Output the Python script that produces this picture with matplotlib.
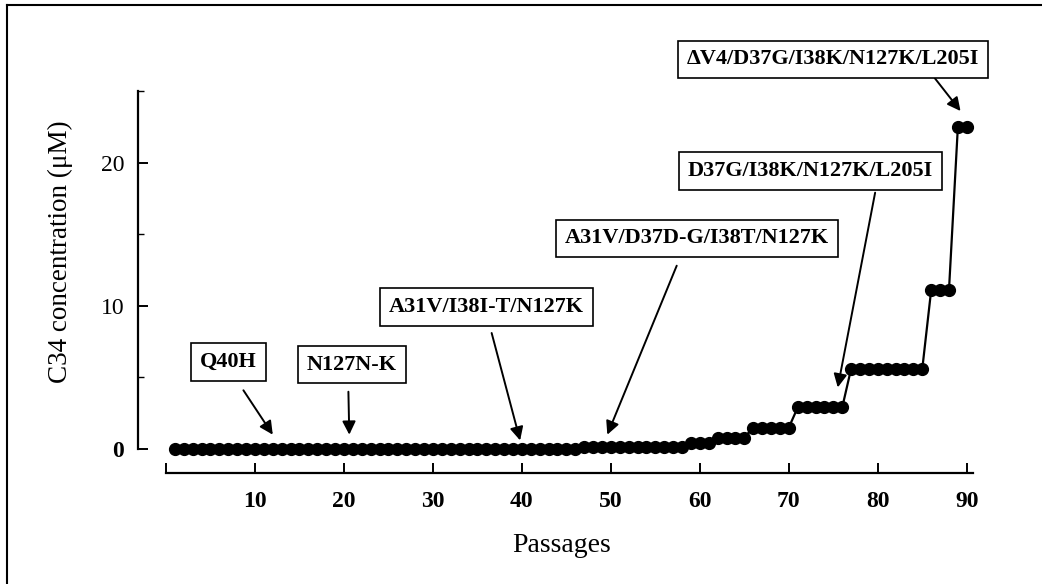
import matplotlib
matplotlib.use('Agg')
import matplotlib.pyplot as plt
from matplotlib.lines import Line2D

plt.rcParams['font.family'] = ['Liberation Serif', 'DejaVu Serif']

# Data
passages = list(range(1, 91))
levels = [0.0] * 46 + [0.15] * 12 + [0.4] * 3 + [0.8] * 4 + [1.5] * 5 \
    + [2.9] * 6 + [5.6] * 9 + [11.1] * 3 + [22.5] * 2

x_ticks = [0, 10, 20, 30, 40, 50, 60, 70, 80, 90]
x_tick_labels = ['', '10', '20', '30', '40', '50', '60', '70', '80', '90']
y_ticks = [0, 10, 20]
y_tick_labels = ['0', '10', '20']

# mutation labels: text, box centre, arrow tail, arrow tip
labels = ['Q40H', 'N127N-K', 'A31V/I38I-T/N127K', 'A31V/D37D-G/I38T/N127K',
          'D37G/I38K/N127K/L205I', '\u0394V4/D37G/I38K/N127K/L205I']
box_xy = [(7.0, 6.1), (20.9, 5.9), (36.0, 9.9), (59.7, 14.7), (72.4, 19.4), (75.0, 27.2)]
tail_xy = [(8.7, 4.1), (20.5, 4.0), (36.6, 8.1), (57.4, 12.8), (79.7, 17.9), (86.4, 25.9)]
tip_xy = [(12.0, 1.0), (20.6, 1.0), (39.8, 0.6), (49.6, 1.0), (75.5, 4.3), (89.3, 23.6)]

fig = plt.figure(figsize=(10.42, 5.84), dpi=100)
ax = fig.add_axes([166 / 1042, 1 - 449 / 584, 807 / 1042, 358 / 584])

ax.plot(passages, levels, 'k-', lw=1.6, marker='o', ms=8.5, clip_on=False, zorder=3)

ax.set_xlim(0, 90.7)
ax.set_ylim(0, 25)

# detached axes like the original
ax.spines['top'].set_visible(False)
ax.spines['right'].set_visible(False)
ax.spines['left'].set_position(('outward', 20))
ax.spines['bottom'].set_position(('outward', 17.5))
ax.spines['left'].set_linewidth(1.6)
ax.spines['bottom'].set_linewidth(1.6)

ax.set_xticks(x_ticks)
ax.set_xticklabels(x_tick_labels, fontweight='bold', fontsize=17)
ax.set_yticks(y_ticks)
ax.set_yticklabels(y_tick_labels, fontsize=17)
ax.get_yticklabels()[0].set_fontweight('bold')
ax.set_yticks([5, 15, 25], minor=True)
ax.tick_params(axis='x', direction='in', length=7, width=1.4, pad=13)
ax.tick_params(axis='y', which='major', direction='in', length=7, width=1.4, pad=10)
ax.tick_params(axis='y', which='minor', direction='in', length=4, width=1.0)

ax.set_xlabel('Passages', fontsize=20)
ax.xaxis.set_label_coords(0.49, -0.235)
ax.set_ylabel('C34 concentration (\u03bcM)', fontsize=19.5)
ax.yaxis.set_label_coords(-0.115, 0.55)

for text, bxy, txy, pxy in zip(labels, box_xy, tail_xy, tip_xy):
    ax.text(bxy[0], bxy[1], text, ha='center', va='center', fontsize=16,
            fontweight='bold', family=['Liberation Serif', 'DejaVu Serif'],
            bbox=dict(boxstyle='square,pad=0.4', fc='white', ec='black', lw=1.2),
            clip_on=False, zorder=5)
    ax.annotate('', xy=pxy, xytext=txy, annotation_clip=False,
                arrowprops=dict(arrowstyle='-|>', color='black', lw=1.4,
                                mutation_scale=20, shrinkA=0, shrinkB=0))

# scanned frame edges (left and top)
fig.add_artist(Line2D([7 / 1042, 7 / 1042], [0, 1 - 5 / 584], color='black', lw=1.5))
fig.add_artist(Line2D([7 / 1042, 1], [1 - 5 / 584, 1 - 5 / 584], color='black', lw=1.5))

fig.savefig('out.png', dpi=100)
